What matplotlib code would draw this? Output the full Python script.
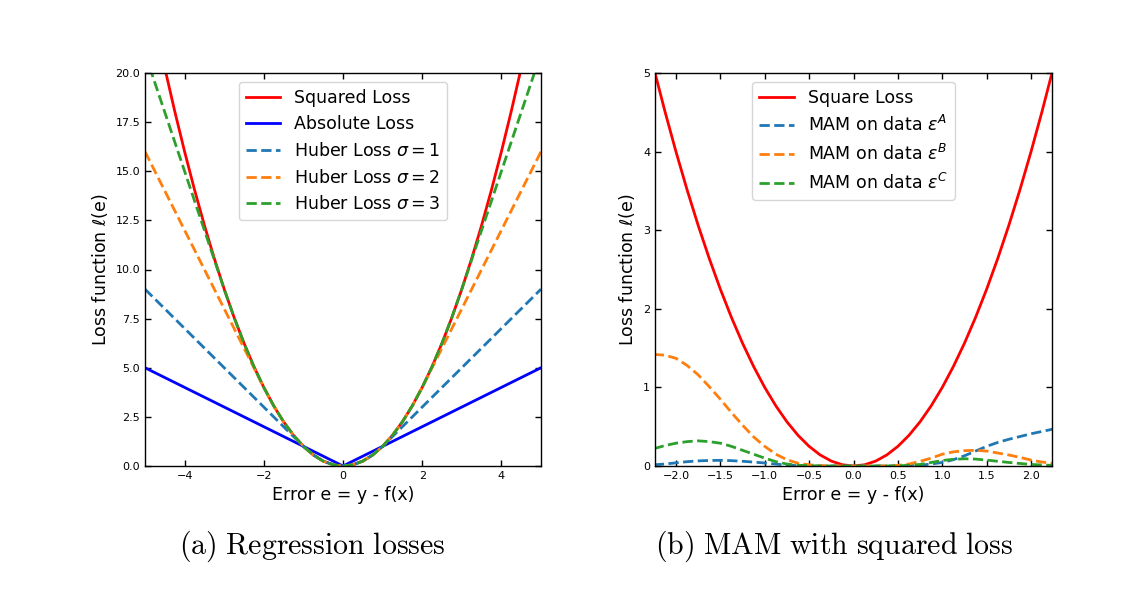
import numpy as np
import matplotlib
matplotlib.use("Agg")
import matplotlib.pyplot as plt

# ---------------- data: left panel (regression losses) ----------------
e_left = [-5.0, -4.75, -4.5, -4.25, -4.0, -3.75, -3.5, -3.25, -3.0, -2.75,
          -2.5, -2.25, -2.0, -1.75, -1.5, -1.25, -1.0, -0.75, -0.5, -0.25,
          0.0, 0.25, 0.5, 0.75, 1.0, 1.25, 1.5, 1.75, 2.0, 2.25, 2.5, 2.75,
          3.0, 3.25, 3.5, 3.75, 4.0, 4.25, 4.5, 4.75, 5.0]
squared_loss = [25, 22.5625, 20.25, 18.0625, 16, 14.0625, 12.25, 10.5625, 9, 7.5625,
                6.25, 5.0625, 4, 3.0625, 2.25, 1.5625, 1, 0.5625, 0.25, 0.0625,
                0, 0.0625, 0.25, 0.5625, 1, 1.5625, 2.25, 3.0625, 4, 5.0625, 6.25, 7.5625,
                9, 10.5625, 12.25, 14.0625, 16, 18.0625, 20.25, 22.5625, 25]
absolute_loss = [5, 4.75, 4.5, 4.25, 4, 3.75, 3.5, 3.25, 3, 2.75,
                 2.5, 2.25, 2, 1.75, 1.5, 1.25, 1, 0.75, 0.5, 0.25,
                 0, 0.25, 0.5, 0.75, 1, 1.25, 1.5, 1.75, 2, 2.25, 2.5, 2.75,
                 3, 3.25, 3.5, 3.75, 4, 4.25, 4.5, 4.75, 5]
huber_1 = [9, 8.5, 8, 7.5, 7, 6.5, 6, 5.5, 5, 4.5,
           4, 3.5, 3, 2.5, 2, 1.5, 1, 0.5625, 0.25, 0.0625,
           0, 0.0625, 0.25, 0.5625, 1, 1.5, 2, 2.5, 3, 3.5, 4, 4.5,
           5, 5.5, 6, 6.5, 7, 7.5, 8, 8.5, 9]
huber_2 = [16, 15, 14, 13, 12, 11, 10, 9, 8, 7,
           6, 5, 4, 3.0625, 2.25, 1.5625, 1, 0.5625, 0.25, 0.0625,
           0, 0.0625, 0.25, 0.5625, 1, 1.5625, 2.25, 3.0625, 4, 5, 6, 7,
           8, 9, 10, 11, 12, 13, 14, 15, 16]
huber_3 = [21, 19.5, 18, 16.5, 15, 13.5, 12, 10.5, 9, 7.5625,
           6.25, 5.0625, 4, 3.0625, 2.25, 1.5625, 1, 0.5625, 0.25, 0.0625,
           0, 0.0625, 0.25, 0.5625, 1, 1.5625, 2.25, 3.0625, 4, 5.0625, 6.25, 7.5625,
           9, 10.5, 12, 13.5, 15, 16.5, 18, 19.5, 21]
left_labels = ["Squared Loss", "Absolute Loss", r"Huber Loss $\sigma = 1$",
               r"Huber Loss $\sigma = 2$", r"Huber Loss $\sigma = 3$"]

# ---------------- data: right panel (MAM with squared loss) ----------------
e_right = [-2.25, -2.125, -2.0, -1.875, -1.75, -1.625, -1.5, -1.375, -1.25,
           -1.125, -1.0, -0.875, -0.75, -0.625, -0.5, -0.375, -0.25, -0.125,
           0.0, 0.125, 0.25, 0.375, 0.5, 0.625, 0.75, 0.875, 1.0, 1.125,
           1.25, 1.375, 1.5, 1.625, 1.75, 1.875, 2.0, 2.125, 2.25]
square_loss = [5.0625, 4.5156, 4.0, 3.5156, 3.0625, 2.6406, 2.25, 1.8906, 1.5625,
               1.2656, 1.0, 0.7656, 0.5625, 0.3906, 0.25, 0.1406, 0.0625, 0.0156,
               0.0, 0.0156, 0.0625, 0.1406, 0.25, 0.3906, 0.5625, 0.7656, 1.0, 1.2656,
               1.5625, 1.8906, 2.25, 2.6406, 3.0625, 3.5156, 4.0, 4.5156, 5.0625]
mam_A = [0.015, 0.025, 0.04, 0.055, 0.065, 0.07, 0.072, 0.068, 0.06,
         0.05, 0.038, 0.024, 0.012, 0.004, 0.001, 0.0, 0.0, 0.0,
         0.0, 0.0, 0.0, 0.0, 0.0, 0.003, 0.01, 0.025, 0.045, 0.08,
         0.13, 0.19, 0.25, 0.30, 0.34, 0.375, 0.41, 0.44, 0.47]
mam_B = [1.42, 1.41, 1.37, 1.28, 1.16, 1.01, 0.85, 0.68, 0.52,
         0.37, 0.25, 0.15, 0.08, 0.035, 0.015, 0.005, 0.0, 0.0,
         0.0, 0.0, 0.0, 0.002, 0.008, 0.025, 0.06, 0.10, 0.15, 0.18,
         0.195, 0.20, 0.19, 0.165, 0.14, 0.11, 0.075, 0.05, 0.033]
mam_C = [0.22, 0.26, 0.29, 0.31, 0.32, 0.31, 0.29, 0.25, 0.20,
         0.15, 0.10, 0.055, 0.025, 0.01, 0.003, 0.0, 0.0, 0.0,
         0.0, 0.0, 0.0, 0.0, 0.002, 0.008, 0.02, 0.045, 0.07, 0.085,
         0.092, 0.088, 0.075, 0.06, 0.045, 0.032, 0.02, 0.013, 0.008]
right_labels = ["Square Loss", r"MAM on data $\varepsilon^{A}$",
                r"MAM on data $\varepsilon^{B}$", r"MAM on data $\varepsilon^{C}$"]

left_yticks = [0, 2.5, 5, 7.5, 10, 12.5, 15, 17.5, 20]
left_xticks = [-4, -2, 0, 2, 4]
right_xticks = [-2.0, -1.5, -1.0, -0.5, 0.0, 0.5, 1.0, 1.5, 2.0]
right_yticks = [0, 1, 2, 3, 4, 5]

# ---------------- figure ----------------
W, H = 1137, 590
fig = plt.figure(figsize=(W / 100, H / 100), dpi=100)

def px_axes(x0, y0, x1, y1):
    return fig.add_axes([x0 / W, 1 - y1 / H, (x1 - x0) / W, (y1 - y0) / H])

LABEL_FS = 12.5
TICK_FS = 8
LEG_FS = 12.5
LW = 2.0

def style(ax):
    ax.tick_params(direction="in", top=True, right=True, labelsize=TICK_FS,
                   length=4, width=1)
    for s in ax.spines.values():
        s.set_linewidth(1.0)

ax1 = px_axes(145, 73, 541, 466)
ax1.plot(e_left, squared_loss, color="red", lw=LW, label=left_labels[0])
ax1.plot(e_left, absolute_loss, color="blue", lw=LW, label=left_labels[1])
ax1.plot(e_left, huber_1, color="tab:blue", lw=LW, ls="--", label=left_labels[2])
ax1.plot(e_left, huber_2, color="tab:orange", lw=LW, ls="--", label=left_labels[3])
ax1.plot(e_left, huber_3, color="tab:green", lw=LW, ls="--", label=left_labels[4])
ax1.set_xlim(-5, 5)
ax1.set_ylim(0, 20)
ax1.set_xticks(left_xticks)
ax1.set_yticks(left_yticks)
ax1.set_yticklabels([f"{v:.1f}" for v in left_yticks])
ax1.set_xlabel("Error e = y - f(x)", fontsize=LABEL_FS)
ax1.set_ylabel(r"Loss function $\ell$(e)", fontsize=LABEL_FS)
style(ax1)
ax1.legend(loc="upper center", fontsize=LEG_FS, borderaxespad=0.5)

ax2 = px_axes(655, 73, 1052, 466)
ax2.plot(e_right, square_loss, color="red", lw=LW, label=right_labels[0])
ax2.plot(e_right, mam_A, color="tab:blue", lw=LW, ls="--", label=right_labels[1])
ax2.plot(e_right, mam_B, color="tab:orange", lw=LW, ls="--", label=right_labels[2])
ax2.plot(e_right, mam_C, color="tab:green", lw=LW, ls="--", label=right_labels[3])
ax2.set_xlim(-2.236, 2.236)
ax2.set_ylim(0, 5)
ax2.set_xticks(right_xticks)
ax2.set_xticklabels([f"{v:.1f}".replace("-", "\u2212") for v in right_xticks])
ax2.set_yticks(right_yticks)
ax2.set_xlabel("Error e = y - f(x)", fontsize=LABEL_FS)
ax2.set_ylabel(r"Loss function $\ell$(e)", fontsize=LABEL_FS)
style(ax2)
ax2.legend(loc="upper center", fontsize=LEG_FS, borderaxespad=0.5)

# captions
fig.text(312 / W, 1 - 546 / H, r"$\mathrm{(a)\ Regression\ losses}$",
         ha="center", va="center", fontsize=21.5, math_fontfamily="cm")
fig.text(834 / W, 1 - 546 / H, r"$\mathrm{(b)\ MAM\ with\ squared\ loss}$",
         ha="center", va="center", fontsize=21.5, math_fontfamily="cm")

fig.savefig("out.png", dpi=100)
